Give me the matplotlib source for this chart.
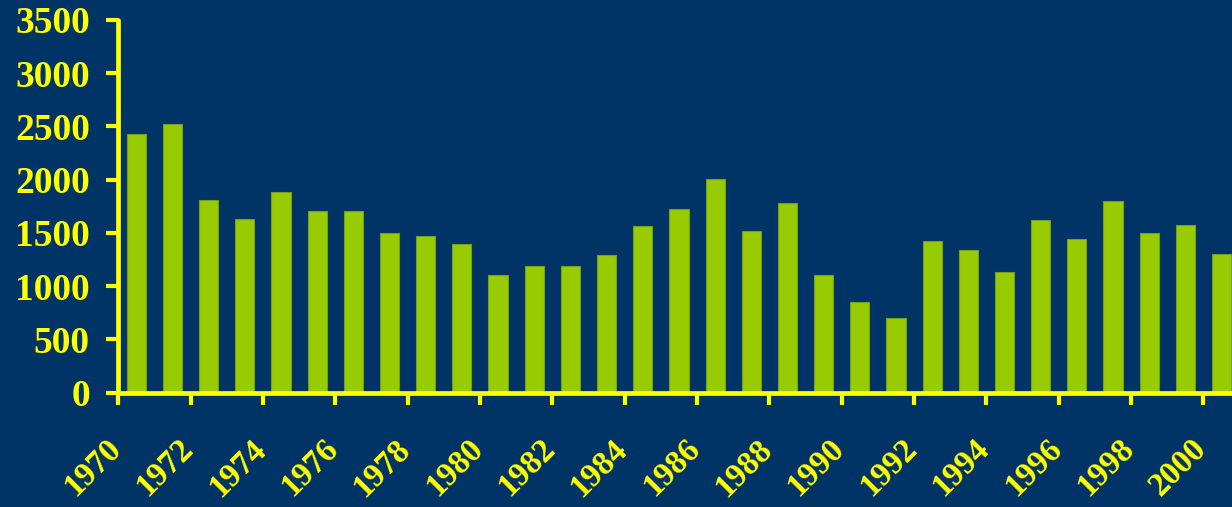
import matplotlib
matplotlib.use("Agg")
import matplotlib.pyplot as plt
import matplotlib.transforms as mtransforms
import numpy as np

years = list(range(1970, 2001))
values = [2425, 2525, 1810, 1630, 1885, 1710, 1710, 1500, 1475, 1400,
          1110, 1190, 1190, 1290, 1570, 1725, 2005, 1520, 1778, 1110,
          855, 705, 1422, 1343, 1136, 1625, 1446, 1803, 1497, 1575, 1302]
tick_years = years[::2]

bg = '#003366'
yellow = '#ffff00'
green = '#99cc00'

plt.rcParams['font.family'] = ['Liberation Serif', 'DejaVu Serif']
plt.rcParams['font.weight'] = 'bold'

fig = plt.figure(figsize=(12.32, 5.07), dpi=100, facecolor=bg)
ax = fig.add_axes([0.096, 0.2254, 0.904, 0.7352], facecolor=bg)

x = np.arange(len(years))
ax.bar(x, values, width=0.53, color=green, edgecolor='#74a01c',
       linewidth=0.8, zorder=2)

ax.set_xlim(-0.5, 30.29)
ax.set_ylim(0, 3500)
ax.set_yticks(range(0, 3501, 500))

# ticks sit on category boundaries, one label per two years
ax.set_xticks([years.index(y) - 0.5 for y in tick_years])
ax.set_xticklabels([str(y) for y in tick_years], rotation=45,
                   ha='right', va='baseline', rotation_mode='anchor')

for side in ['top', 'right']:
    ax.spines[side].set_visible(False)
for side in ['left', 'bottom']:
    ax.spines[side].set_color(yellow)
    ax.spines[side].set_linewidth(3.4)
    ax.spines[side].set_capstyle('round')

ax.tick_params(axis='both', colors=yellow, length=8.5, width=3,
               labelcolor=yellow)
ax.tick_params(axis='y', pad=12, labelsize=27)
ax.tick_params(axis='x', pad=33, labelsize=24)

shift = mtransforms.ScaledTranslation(3 / 72, 0, fig.dpi_scale_trans)
for lbl in ax.get_xticklabels():
    lbl.set_transform(lbl.get_transform() + shift)
for lbl in ax.get_xticklabels() + ax.get_yticklabels():
    lbl.set_fontweight('bold')

plt.savefig('out.png', dpi=100, facecolor=bg)
